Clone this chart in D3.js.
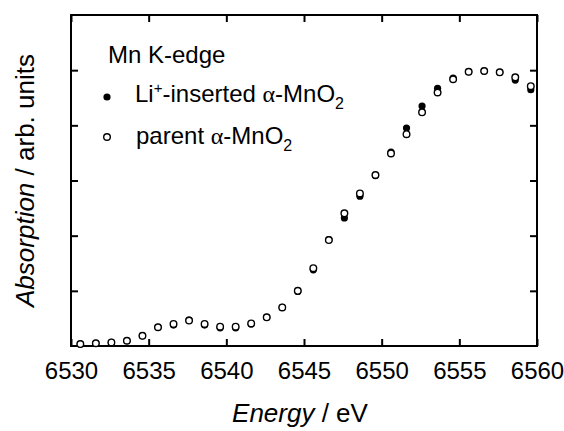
<!DOCTYPE html>
<html>
<head>
<meta charset="utf-8">
<script src="https://cdn.jsdelivr.net/npm/d3@7"></script>
<style>
  body { margin: 0; background: #fff; }
  text { font-family: "Liberation Sans", Arial, sans-serif; fill: #000; }
</style>
</head>
<body>
<div id="chart"></div>
<script>
// data
const energy = [6530.6, 6531.6, 6532.6, 6533.6, 6534.6, 6535.6, 6536.6, 6537.6, 6538.6, 6539.6,
    6540.6, 6541.6, 6542.6, 6543.6, 6544.6, 6545.6, 6546.6, 6547.6, 6548.6, 6549.6,
    6550.6, 6551.6, 6552.6, 6553.6, 6554.6, 6555.6, 6556.6, 6557.6, 6558.6, 6559.6];

const inserted = [0.007, 0.010, 0.013, 0.019, 0.037, 0.068, 0.076, 0.094, 0.076, 0.066,
    0.066, 0.080, 0.104, 0.140, 0.198, 0.276, 0.386, 0.464, 0.543, 0.618,
    0.703, 0.790, 0.870, 0.934, 0.971, 0.994, 0.997, 0.992, 0.964, 0.929];

const parent = [0.007, 0.010, 0.013, 0.019, 0.037, 0.068, 0.080, 0.092, 0.080, 0.070,
    0.070, 0.082, 0.104, 0.140, 0.200, 0.282, 0.384, 0.481, 0.553, 0.620,
    0.698, 0.768, 0.847, 0.919, 0.967, 0.994, 0.997, 0.992, 0.974, 0.942];

const xTicks = [6530, 6535, 6540, 6545, 6550, 6555, 6560];
const yTicks = [0.2, 0.4, 0.6, 0.8, 1.0];

// marges
var margin = { top: 15, right: 27, bottom: 85, left: 71 },
    width = 564 - margin.left - margin.right,
    height = 431 - margin.top - margin.bottom;

const svg = d3.select('#chart')
    .append("svg")
    .attr("width", 564)
    .attr("height", 431)
    .append("g")
    .attr("transform", "translate(" + margin.left + "," + margin.top + ")");

var x = d3.scaleLinear()
    .domain([6530, 6560])
    .range([0, width]);

var y = d3.scaleLinear()
    .domain([0, 1.2])
    .range([height, 0]);

// axes, ticks inward
function styleAxis(g) {
    g.select(".domain").remove();
    g.selectAll(".tick line").attr("stroke", "#000").attr("stroke-width", 2);
    g.selectAll(".tick text").attr("font-size", 24).attr("font-family", "Liberation Sans, Arial, sans-serif");
}

svg.append("g")
    .attr("transform", "translate(0," + height + ")")
    .call(d3.axisBottom(x).tickValues(xTicks).tickFormat(d3.format("d")).tickSizeInner(-7).tickSizeOuter(0).tickPadding(16))
    .call(styleAxis);

svg.append("g")
    .call(d3.axisTop(x).tickValues(xTicks).tickFormat("").tickSizeInner(-7).tickSizeOuter(0))
    .call(styleAxis);

svg.append("g")
    .call(d3.axisLeft(y).tickValues(yTicks).tickFormat("").tickSizeInner(-7).tickSizeOuter(0))
    .call(styleAxis);

svg.append("g")
    .attr("transform", "translate(" + width + ",0)")
    .call(d3.axisRight(y).tickValues(yTicks).tickFormat("").tickSizeInner(-7).tickSizeOuter(0))
    .call(styleAxis);

// cadre
svg.append("rect")
    .attr("width", width)
    .attr("height", height)
    .attr("fill", "none")
    .attr("stroke", "#000")
    .attr("stroke-width", 2);

// filled points first, open ones on top
svg.append("g")
    .selectAll("circle")
    .data(energy)
    .join("circle")
    .attr("cx", (d) => x(d))
    .attr("cy", (d, i) => y(inserted[i]))
    .attr("r", 3.6)
    .attr("fill", "#000");

svg.append("g")
    .selectAll("circle")
    .data(energy)
    .join("circle")
    .attr("cx", (d) => x(d))
    .attr("cy", (d, i) => y(parent[i]))
    .attr("r", 3.3)
    .attr("fill", "#fff")
    .attr("stroke", "#000")
    .attr("stroke-width", 1.4);

// legende
const leg = svg.append("g").attr("font-size", 24);

leg.append("text")
    .attr("x", 37)
    .attr("y", 48)
    .text("Mn K-edge");

leg.append("circle")
    .attr("cx", 36).attr("cy", 82).attr("r", 3.6)
    .attr("fill", "#000");

const t1 = leg.append("text").attr("x", 64).attr("y", 87);
t1.append("tspan").text("Li");
t1.append("tspan").attr("font-size", 15).attr("dy", -9).text("+");
t1.append("tspan").attr("dy", 9).text("-inserted ");
t1.append("tspan").attr("font-family", "Liberation Serif, serif").text("α");
t1.append("tspan").text("-MnO");
t1.append("tspan").attr("font-size", 16).attr("dy", 7).text("2");

leg.append("circle")
    .attr("cx", 36).attr("cy", 122).attr("r", 3.3)
    .attr("fill", "#fff")
    .attr("stroke", "#000")
    .attr("stroke-width", 1.4);

const t2 = leg.append("text").attr("x", 65).attr("y", 129);
t2.append("tspan").text("parent ");
t2.append("tspan").attr("font-family", "Liberation Serif, serif").text("α");
t2.append("tspan").text("-MnO");
t2.append("tspan").attr("font-size", 16).attr("dy", 7).text("2");

// titres des axes
const xt = svg.append("text")
    .attr("x", width / 2 - 4)
    .attr("y", height + 76)
    .attr("text-anchor", "middle")
    .attr("font-size", 26);
xt.append("tspan").attr("font-style", "italic").text("Energy");
xt.append("tspan").text(" / eV");

const yt = svg.append("text")
    .attr("transform", "translate(" + (-37) + "," + (height / 2) + ") rotate(-90)")
    .attr("text-anchor", "middle")
    .attr("font-size", 26);
yt.append("tspan").attr("font-style", "italic").text("Absorption");
yt.append("tspan").text(" / arb. units");
</script>
</body>
</html>
